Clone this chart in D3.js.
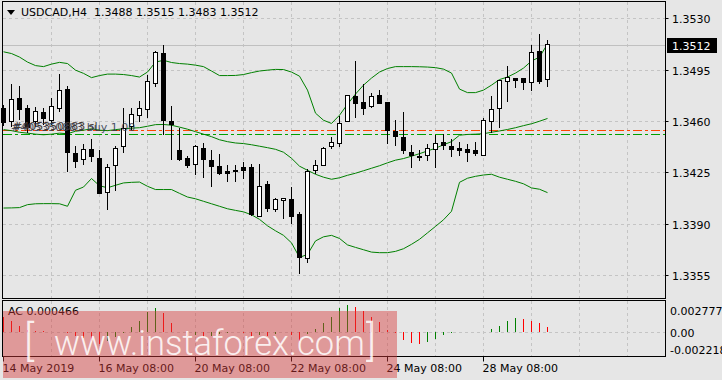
<!DOCTYPE html>
<html>
<head>
<meta charset="utf-8">
<script src="https://d3js.org/d3.v7.min.js"></script>
<style>
  body { margin: 0; background: #e6e6e6; }
  svg text { font-family: "DejaVu Sans", sans-serif; font-size: 11px; fill: #000; }
</style>
</head>
<body>
<svg id="chart" width="722" height="380"></svg>
<script>
// USDCAD H4 candles
const opens  = [1.34686,1.34599,1.34754,1.34686,1.34595,1.34661,1.34606,1.34686,1.34818,1.34381,
                1.34338,1.34404,1.34345,1.34113,1.34296,1.34424,1.34561,1.34637,1.34679,1.34857,
                1.35063,1.34599,1.34402,1.34345,1.34304,1.34415,1.34329,1.34288,1.34258,1.34265,
                1.34281,1.34281,1.33953,1.34170,1.33997,1.34056,1.34065,1.33965,1.33663,1.34265,
                1.34299,1.34424,1.34447,1.34599,1.34770,1.34727,1.34702,1.34775,1.34729,1.34531,
                1.34488,1.34386,1.34362,1.34364,1.34408,1.34454,1.34427,1.34415,1.34408,1.34400,
                1.34365,1.34597,1.34686,1.34868,1.34891,1.34891,1.34862,1.35077,1.34880];
const highs  = [1.34709,1.34852,1.34838,1.34709,1.34697,1.34688,1.34754,1.34922,1.34840,1.34429,
                1.34441,1.34479,1.34406,1.34306,1.34429,1.34686,1.34686,1.34736,1.34917,1.35077,
                1.35118,1.34702,1.34550,1.34361,1.34436,1.34454,1.34402,1.34379,1.34299,1.34299,
                1.34322,1.34306,1.34306,1.34190,1.34076,1.34074,1.34151,1.33979,1.34277,1.34338,
                1.34424,1.34492,1.34634,1.34777,1.35011,1.34852,1.34792,1.34811,1.34732,1.34606,
                1.34661,1.34436,1.34402,1.34443,1.34504,1.34509,1.34481,1.34461,1.34447,1.34458,
                1.34618,1.34771,1.34879,1.34975,1.34893,1.34893,1.35118,1.35193,1.35150];
const lows   = [1.34565,1.34559,1.34606,1.34518,1.34559,1.34572,1.34572,1.34663,1.34254,1.34281,
                1.34304,1.34322,1.34101,1.33997,1.34125,1.34383,1.34538,1.34593,1.34620,1.34831,
                1.34504,1.34338,1.34331,1.34281,1.34231,1.34215,1.34151,1.34231,1.34185,1.34185,
                1.34209,1.33953,1.33948,1.33981,1.33981,1.33931,1.33897,1.33561,1.33633,1.34243,
                1.34292,1.34408,1.34424,1.34596,1.34622,1.34640,1.34686,1.34719,1.34445,1.34429,
                1.34379,1.34284,1.34327,1.34327,1.34282,1.34402,1.34354,1.34361,1.34322,1.34361,
                1.34364,1.34521,1.34552,1.34731,1.34825,1.34811,1.34806,1.34852,1.34830];
const closes = [1.34589,1.34747,1.34679,1.34559,1.34668,1.34618,1.34702,1.34811,1.34383,1.34322,
                1.34408,1.34356,1.34105,1.34284,1.34415,1.34550,1.34645,1.34686,1.34869,1.35068,
                1.34602,1.34577,1.34338,1.34295,1.34427,1.34338,1.34292,1.34240,1.34243,1.34255,
                1.34263,1.33963,1.34156,1.34004,1.34065,1.34072,1.33953,1.33670,1.34258,1.34297,
                1.34413,1.34454,1.34584,1.34775,1.34720,1.34683,1.34765,1.34720,1.34536,1.34492,
                1.34397,1.34364,1.34359,1.34413,1.34447,1.34434,1.34404,1.34397,1.34383,1.34376,
                1.34606,1.34680,1.34877,1.34898,1.34874,1.34865,1.35068,1.34868,1.35120];

// Bollinger bands as drawn
const bbUpper  = [1.35072,1.35060,1.35036,1.35002,1.34978,1.34971,1.34988,1.35000,1.34992,1.34947,
                  1.34925,1.34896,1.34910,1.34920,1.34920,1.34917,1.34910,1.34900,1.34934,1.35002,
                  1.35014,1.34999,1.34992,1.34988,1.34981,1.34971,1.34941,1.34910,1.34910,1.34911,
                  1.34917,1.34930,1.34941,1.34947,1.34952,1.34951,1.34934,1.34906,1.34811,1.34654,
                  1.34606,1.34584,1.34640,1.34715,1.34784,1.34845,1.34893,1.34934,1.34958,1.34971,
                  1.34971,1.34971,1.34970,1.34968,1.34964,1.34954,1.34927,1.34818,1.34794,1.34794,
                  1.34811,1.34845,1.34883,1.34900,1.34927,1.34961,1.35009,1.35036,1.35125];
const bbMiddle = [1.34542,1.34535,1.34524,1.34518,1.34511,1.34507,1.34511,1.34518,1.34514,1.34531,
                  1.34538,1.34548,1.34538,1.34535,1.34542,1.34548,1.34552,1.34555,1.34565,1.34576,
                  1.34577,1.34572,1.34559,1.34545,1.34528,1.34511,1.34494,1.34473,1.34460,1.34451,
                  1.34447,1.34439,1.34429,1.34419,1.34408,1.34388,1.34347,1.34293,1.34265,1.34238,
                  1.34218,1.34204,1.34214,1.34231,1.34245,1.34262,1.34279,1.34296,1.34316,1.34334,
                  1.34345,1.34361,1.34378,1.34397,1.34415,1.34439,1.34460,1.34504,1.34509,1.34511,
                  1.34514,1.34524,1.34533,1.34543,1.34555,1.34569,1.34582,1.34599,1.34618];
const bbLower  = [1.34008,1.34009,1.34011,1.34031,1.34037,1.34038,1.34038,1.34037,1.34020,1.34129,
                  1.34151,1.34209,1.34160,1.34146,1.34163,1.34179,1.34183,1.34185,1.34156,1.34134,
                  1.34134,1.34134,1.34108,1.34083,1.34071,1.34054,1.34037,1.34020,1.34003,1.33992,
                  1.33982,1.33962,1.33931,1.33887,1.33853,1.33822,1.33771,1.33672,1.33692,1.33784,
                  1.33812,1.33822,1.33801,1.33757,1.33740,1.33724,1.33708,1.33704,1.33704,1.33713,
                  1.33731,1.33761,1.33795,1.33839,1.33883,1.33928,1.33986,1.34183,1.34211,1.34224,
                  1.34233,1.34238,1.34218,1.34204,1.34190,1.34173,1.34145,1.34136,1.34113];

// Accelerator Oscillator
const acValues = [0.00135,0.00100,0.00050,0.00020,0.00005,0.00003,-0.00003,-0.00004,-0.00010,-0.00040,
                  -0.00060,-0.00080,-0.00110,-0.00080,-0.00050,-0.00010,0.00040,0.00100,0.00180,0.00220,
                  0.00170,0.00080,0.00000,-0.00050,-0.00030,-0.00060,-0.00040,-0.00020,-0.00010,0.00000,
                  -0.00010,-0.00050,-0.00030,-0.00040,-0.00020,0.00000,-0.00030,-0.00080,-0.00020,0.00023,
                  0.00078,0.00138,0.00215,0.00246,0.00230,0.00193,0.00138,0.00093,0.00017,-0.00010,
                  -0.00075,-0.00100,-0.00115,-0.00090,-0.00066,-0.00032,-0.00008,0.00002,-0.00001,0.00001,
                  0.00000,0.00023,0.00053,0.00099,0.00129,0.00115,0.00099,0.00083,0.000466];

const priceTicks = [1.3530, 1.3495, 1.3460, 1.3425, 1.3390, 1.3355];
const acTicks = [0.002777, 0.00, -0.002218];
const acTickLabels = ["0.002777", "0.00", "-0.002218"];
const dateTickBars = [0, 12, 24, 36, 48, 60];
const dateLabels = ["14 May 2019", "16 May 08:00", "20 May 08:00", "22 May 08:00", "24 May 08:00", "28 May 08:00"];
const lastPrice = 1.3512;
const slLevel = 1.34536;
const buyLevel = 1.34509;
const header = "USDCAD,H4  1.3488 1.3515 1.3483 1.3512";

const svg = d3.select('#chart');
const L = 2.5, R = 665.5;
const mainTop = 1.5, mainBottom = 298.5;
const subTop = 300.5, subBottom = 356.5;

const x = d3.scaleLinear().domain([0, 68]).range([3.5, 547.5]);
const y = d3.scaleLinear().domain([1.3355, 1.3530]).range([275.3, 18.3]);
const yAc = d3.scaleLinear().domain([-0.002218, 0.002777]).range([356, 301.5]);

svg.append('rect').attr('width', 722).attr('height', 380).attr('fill', '#e6e6e6');

// grid
const gridIdx = d3.range(6, 79, 6);
const grid = svg.append('g').attr('stroke', '#c4c4c4').attr('stroke-dasharray', '3,3')
  .attr('shape-rendering', 'crispEdges');
gridIdx.forEach(i => {
  grid.append('line').attr('x1', x(i)).attr('x2', x(i)).attr('y1', mainTop).attr('y2', mainBottom);
  grid.append('line').attr('x1', x(i)).attr('x2', x(i)).attr('y1', subTop).attr('y2', subBottom);
});
priceTicks.forEach(p => {
  grid.append('line').attr('x1', L).attr('x2', R).attr('y1', Math.round(y(p)) + 0.5).attr('y2', Math.round(y(p)) + 0.5);
});
grid.append('line').attr('x1', L).attr('x2', R).attr('y1', Math.round(yAc(0)) + 0.5).attr('y2', Math.round(yAc(0)) + 0.5);

// last price line
svg.append('line').attr('x1', L).attr('x2', R)
  .attr('y1', Math.round(y(lastPrice)) + 0.5).attr('y2', Math.round(y(lastPrice)) + 0.5)
  .attr('stroke', '#c0c0c0').attr('shape-rendering', 'crispEdges');

// order lines
const orders = [{p: slLevel, c: '#ff4500'}, {p: buyLevel, c: '#00a000'}];
orders.forEach(o => {
  svg.append('line').attr('x1', L).attr('x2', R)
    .attr('y1', Math.round(y(o.p)) + 0.5).attr('y2', Math.round(y(o.p)) + 0.5)
    .attr('stroke', o.c).attr('stroke-dasharray', '9,3,3,3').attr('shape-rendering', 'crispEdges');
});

// bollinger bands
const idx = d3.range(opens.length);
const bandLine = arr => d3.line().x(i => x(i)).y(i => y(arr[i]));
[bbUpper, bbMiddle, bbLower].forEach(arr => {
  svg.append('path').attr('d', bandLine(arr)(idx)).attr('fill', 'none').attr('stroke', '#008000').attr('stroke-width', 1);
});

// candles
const candles = svg.append('g').attr('shape-rendering', 'crispEdges');
idx.forEach(i => {
  const up = closes[i] >= opens[i];
  candles.append('line').attr('x1', x(i)).attr('x2', x(i))
    .attr('y1', y(highs[i])).attr('y2', y(lows[i])).attr('stroke', '#000');
  const top = y(Math.max(opens[i], closes[i]));
  const bot = y(Math.min(opens[i], closes[i]));
  candles.append('rect').attr('x', x(i) - 2).attr('width', 4)
    .attr('y', top).attr('height', Math.max(bot - top, 1))
    .attr('fill', up ? '#fff' : '#000').attr('stroke', '#000');
});

// order labels sit over the candles
svg.append('text').attr('x', 13).attr('y', 130).style('fill', '#4a3a30').text('#405350883 sl');
svg.append('text').attr('x', 11).attr('y', 131).style('fill', '#303850').attr('opacity', 0.85).text('#405350883 buy 1.00');

// AC histogram
const acG = svg.append('g').attr('shape-rendering', 'crispEdges');
idx.forEach(i => {
  const rising = i > 0 && acValues[i] > acValues[i - 1];
  acG.append('line').attr('x1', x(i)).attr('x2', x(i))
    .attr('y1', yAc(0)).attr('y2', yAc(acValues[i]))
    .attr('stroke', rising ? '#008000' : '#ff0000');
});

// frames
const frames = svg.append('g').attr('fill', 'none').attr('stroke', '#000').attr('shape-rendering', 'crispEdges');
frames.append('rect').attr('x', L).attr('y', mainTop).attr('width', R - L).attr('height', mainBottom - mainTop);
frames.append('rect').attr('x', L).attr('y', subTop).attr('width', R - L).attr('height', subBottom - subTop);

// right price axis
const axisG = svg.append('g');
priceTicks.forEach(p => {
  const yy = Math.round(y(p)) + 0.5;
  axisG.append('line').attr('x1', R).attr('x2', R + 3).attr('y1', yy).attr('y2', yy).attr('stroke', '#000');
  axisG.append('text').attr('x', 672).attr('y', yy + 4).text(p.toFixed(4));
});
const ly = Math.round(y(lastPrice)) + 0.5;
axisG.append('rect').attr('x', 667).attr('y', ly - 7.5).attr('width', 50).attr('height', 15).attr('fill', '#000');
axisG.append('text').attr('x', 672).attr('y', ly + 4).style('fill', '#fff').text(lastPrice.toFixed(4));

// AC axis
acTicks.forEach((v, k) => {
  const yy = Math.round(yAc(v)) + 0.5;
  let ty = yy + 4;
  if (k === 0) ty = yy + 12;
  if (k === 2) ty = yy - 3;
  axisG.append('text').attr('x', 670).attr('y', ty).text(acTickLabels[k]);
});

// date axis
dateTickBars.forEach((b, k) => {
  axisG.append('line').attr('x1', x(b)).attr('x2', x(b)).attr('y1', subBottom).attr('y2', subBottom + 5).attr('stroke', '#000');
  axisG.append('text').attr('x', x(b) - 1).attr('y', 372).text(dateLabels[k]);
});

// header and AC label
svg.append('path').attr('d', 'M7,10 L15,10 L11,15 Z').attr('fill', '#000');
svg.append('text').attr('x', 21).attr('y', 16).style('white-space', 'pre').text(header);
svg.append('text').attr('x', 8).attr('y', 315).text('AC ' + acValues[acValues.length - 1].toFixed(6));

// watermark
const wm = svg.append('g');
wm.append('rect').attr('x', 3).attr('y', 311).attr('width', 394).attr('height', 67).attr('fill', 'rgb(215,60,60)').attr('opacity', 0.45);
const wmText = (tx, size, s) => wm.append('text').attr('x', tx).attr('y', 355)
  .style('font-size', size + 'px').style('font-family', 'Roboto, sans-serif')
  .style('font-weight', 300).style('fill', '#fff').attr('opacity', 0.85).text(s);
wmText(24, 42, '[');
wmText(54, 34.5, 'www.instaforex.com');
wmText(366, 42, ']');
</script>
</body>
</html>
